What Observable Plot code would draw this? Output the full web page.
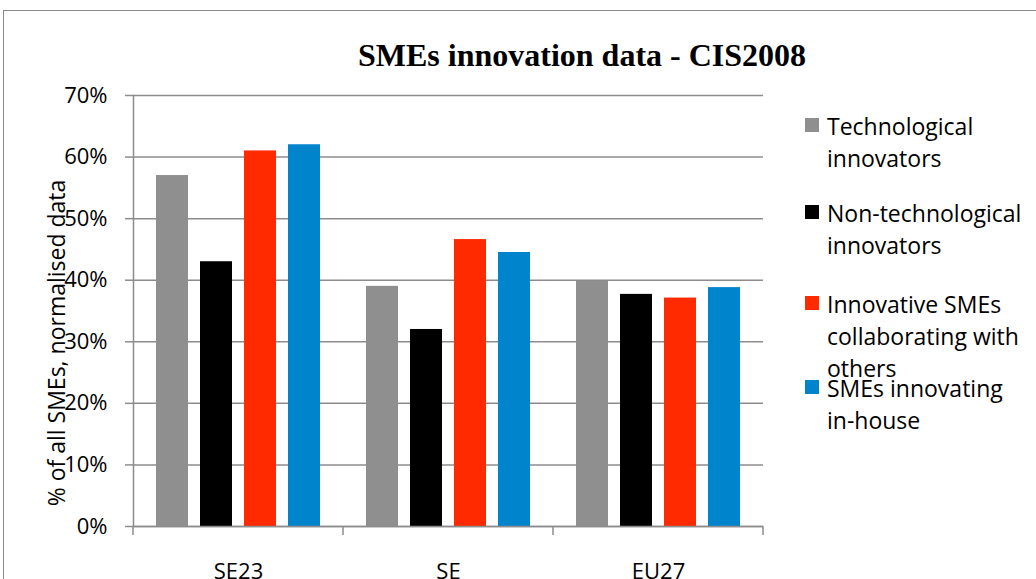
<!DOCTYPE html>
<html>
<head>
<meta charset="utf-8">
<script src="https://cdn.jsdelivr.net/npm/d3@7"></script>
<script src="https://cdn.jsdelivr.net/npm/@observablehq/plot@0.6"></script>
<style>
  body { margin: 0; background: #fff; }
  #wrap { position: relative; width: 1036px; height: 579px; overflow: hidden; font-family: "Open Sans", sans-serif; color: #000; }
  #border { position: absolute; left: 3px; top: 10px; width: 1200px; height: 800px; border-left: 1.5px solid #8a8a8a; border-top: 1.5px solid #8a8a8a; }
  #title { position: absolute; left: 282px; width: 600px; top: 39px; text-align: center; font-family: "Liberation Serif", serif; font-weight: bold; font-size: 32px; line-height: 1; white-space: nowrap; }
  #ylabel { position: absolute; left: 56px; top: 343px; transform: translate(-50%, -50%) rotate(-90deg); font-size: 23px; white-space: nowrap; line-height: 1; }
  #chart { position: absolute; left: 0; top: 0; }
  .leg { position: absolute; left: 805px; font-size: 23px; line-height: 32px; white-space: pre; }
  .leg .sw { position: absolute; left: 0; width: 14px; height: 14px; }
  .leg .tx { position: absolute; left: 22px; }
</style>
</head>
<body>
<div id="wrap">
  <div id="border"></div>
  <div id="chart"></div>
  <div id="title"></div>
  <div id="ylabel"></div>
</div>
<script>
const categories = ["SE23", "SE", "EU27"];
const series = ["Technological innovators", "Non-technological innovators", "Innovative SMEs collaborating with others", "SMEs innovating in-house"];
const legendLabels = ["Technological\ninnovators", "Non-technological\ninnovators", "Innovative SMEs\ncollaborating with\nothers", "SMEs innovating\nin-house"];
const colors = ["#8f8f8f", "#000000", "#ff2a00", "#0084cc"];
const techInnovators = [0.57, 0.39, 0.398];
const nonTechInnovators = [0.43, 0.32, 0.377];
const collaborating = [0.61, 0.466, 0.371];
const inHouse = [0.62, 0.445, 0.388];
const yTicks = [0, 0.1, 0.2, 0.3, 0.4, 0.5, 0.6, 0.7];
const titleText = "SMEs innovation data -  CIS2008";
const yLabelText = "% of all SMEs, normalised data";

const valueSets = [techInnovators, nonTechInnovators, collaborating, inHouse];
const data = [];
categories.forEach((c, i) => {
  series.forEach((s, j) => data.push({category: c, series: s, value: valueSets[j][i]}));
});

const gridColor = "#8c8c8c";

const chart = Plot.plot({
  width: 1036,
  height: 579,
  marginTop: 95,
  marginBottom: 53,
  marginLeft: 133,
  marginRight: 273,
  style: {fontFamily: "Open Sans, sans-serif", fontSize: "22px", color: "#000", background: "transparent"},
  fx: {domain: categories, padding: 0, label: null},
  x: {domain: series, paddingInner: 0.284, paddingOuter: 0.528, axis: null},
  y: {domain: [0, 0.7], label: null},
  color: {domain: series, range: colors},
  marks: [
    Plot.gridY(yTicks, {stroke: gridColor, strokeOpacity: 1, strokeWidth: 1.5}),
    Plot.axisY(yTicks, {tickFormat: d3.format(".0%"), tickSize: 8, tickPadding: 18, stroke: gridColor, strokeWidth: 1.5, label: null}),
    Plot.axisFx({anchor: "bottom", tickSize: 0, tickPadding: 37, label: null}),
    Plot.barY(data, {fx: "category", x: "series", y: "value", fill: "series"}),
    Plot.ruleY([0], {stroke: gridColor, strokeWidth: 1.5}),
    Plot.frame({anchor: "left", facetAnchor: "left", stroke: gridColor, strokeWidth: 1.5})
  ]
});

const svg = chart.tagName.toLowerCase() === "svg" ? chart : chart.querySelector("svg");
// category boundary ticks below the baseline, from the fx scale
const fxs = chart.scale("fx");
const ys = chart.scale("y");
const band = d3.scaleBand().domain(fxs.domain).range(fxs.range).paddingInner(0).paddingOuter(0);
const bounds = fxs.domain.map(d => band(d)).concat([band.range()[1]]);
const y0 = ys.apply(0);
d3.select(svg).append("g")
  .selectAll("line").data(bounds).join("line")
  .attr("x1", d => d).attr("x2", d => d)
  .attr("y1", y0).attr("y2", y0 + 9)
  .attr("stroke", gridColor).attr("stroke-width", 1.5);

document.getElementById("chart").appendChild(chart);
document.getElementById("title").textContent = titleText;
document.getElementById("ylabel").textContent = yLabelText;

// legend
const legendTops = [110, 197, 288, 372];
const wrap = document.getElementById("wrap");
series.forEach((s, i) => {
  const el = document.createElement("div");
  el.className = "leg";
  el.style.top = legendTops[i] + "px";
  const sw = document.createElement("div");
  sw.className = "sw";
  sw.style.background = colors[i];
  sw.style.top = "8px";
  const tx = document.createElement("div");
  tx.className = "tx";
  tx.textContent = legendLabels[i];
  el.appendChild(sw);
  el.appendChild(tx);
  wrap.appendChild(el);
});
</script>
</body>
</html>
